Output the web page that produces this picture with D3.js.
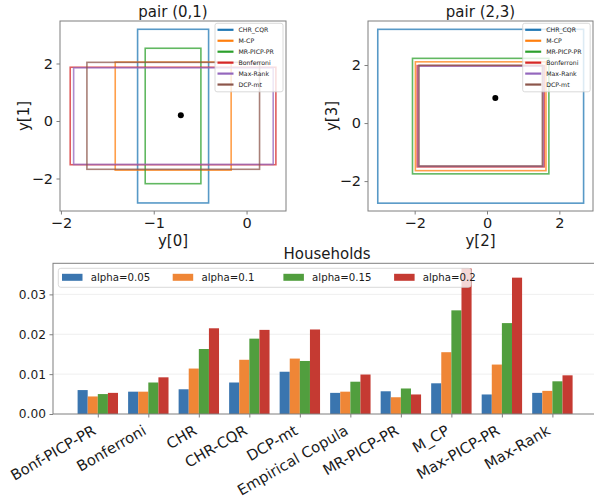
<!DOCTYPE html>
<html><head><meta charset="utf-8">
<script src="https://cdn.jsdelivr.net/npm/d3@7"></script>
<style>body{margin:0;background:#fff}svg{display:block;font-family:"DejaVu Sans",sans-serif}</style>
</head><body><svg id="c" width="594" height="496"></svg>
<script>
// ---- data ----
const methods = ["CHR_CQR","M-CP","MR-PICP-PR","Bonferroni","Max-Rank","DCP-mt"];
const methodColors = ["#1f77b4","#ff7f0e","#2ca02c","#d62728","#9467bd","#8c564b"];
const pair01_x0 = [-1.174,-1.415,-1.092,-1.90,-1.863,-1.72];
const pair01_x1 = [-0.409,-0.166,-0.492,0.316,0.287,0.14];
const pair01_y0 = [-2.85,-1.71,-2.18,-1.52,-1.51,-1.68];
const pair01_y1 = [3.19,2.05,2.53,1.87,1.85,2.04];
const pair01_point = [-0.708,0.198];
const pair23_x0 = [-3.02,-1.98,-2.06,-1.93,-1.90,-1.88];
const pair23_x1 = [2.67,1.63,1.71,1.58,1.55,1.53];
const pair23_y0 = [-2.76,-1.64,-1.75,-1.51,-1.49,-1.48];
const pair23_y1 = [3.23,2.11,2.23,1.98,1.96,1.99];
const pair23_point = [0.23,0.86];
const pair01_xticks = [-2,-1,0];
const pair23_xticks = [-2,0,2];
const pairYticks = [-2,0,2];

const categories = ["Bonf-PICP-PR","Bonferroni","CHR","CHR-CQR","DCP-mt","Empirical Copula","MR-PICP-PR","M_CP","Max-PICP-PR","Max-Rank"];
const alphaLabels = ["alpha=0.05","alpha=0.1","alpha=0.15","alpha=0.2"];
const a005 = [0.0060,0.0056,0.0062,0.0079,0.0106,0.0053,0.0057,0.0077,0.0049,0.0053];
const a010 = [0.0044,0.0056,0.0114,0.0136,0.0139,0.0056,0.0042,0.0155,0.0124,0.0058];
const a015 = [0.0050,0.0079,0.0163,0.0189,0.0133,0.0081,0.0064,0.0260,0.0228,0.0082];
const a020 = [0.0053,0.0092,0.0215,0.0211,0.0212,0.0099,0.0049,0.0365,0.0342,0.0097];
const barTicks = [0,0.01,0.02,0.03];
const barColors = ["#3a75af","#ef8636","#519e3e","#c53a32"];

const svg = d3.select("#c");
const frameCol = "#7f7f7f";

function styleAxis(g, fs){
  g.selectAll(".domain").remove();
  g.selectAll(".tick line").attr("stroke", frameCol);
  g.selectAll(".tick text").attr("fill","#1a1a1a").style("font-size", fs+"px").style("font-family","DejaVu Sans");
}

function pairPlot(o){
  const x = d3.scaleLinear().domain(o.xd).range([o.l,o.r]);
  const y = d3.scaleLinear().domain(o.yd).range([o.b,o.t]);
  const g = svg.append("g");
  // rects
  methods.forEach((m,i)=>{
    g.append("rect")
      .attr("x", x(o.x0[i])).attr("y", y(o.y1[i]))
      .attr("width", x(o.x1[i])-x(o.x0[i])).attr("height", y(o.y0[i])-y(o.y1[i]))
      .attr("fill","none").attr("stroke", methodColors[i]).attr("stroke-width",1.6).attr("stroke-opacity",0.75);
  });
  g.append("circle").attr("cx", x(o.pt[0])).attr("cy", y(o.pt[1])).attr("r",3).attr("fill","#000");
  // frame
  g.append("rect").attr("x",o.l).attr("y",o.t).attr("width",o.r-o.l).attr("height",o.b-o.t)
    .attr("fill","none").attr("stroke",frameCol).attr("stroke-width",1);
  const ax = g.append("g").attr("transform",`translate(0,${o.b})`)
    .call(d3.axisBottom(x).tickValues(o.xt).tickFormat(d3.format("d")).tickSize(3.5).tickPadding(3.5));
  styleAxis(ax,14.5);
  const ay = g.append("g").attr("transform",`translate(${o.l},0)`)
    .call(d3.axisLeft(y).tickValues(pairYticks).tickFormat(d3.format("d")).tickSize(3.5).tickPadding(3.5));
  styleAxis(ay,14.5);
  // labels
  g.append("text").attr("x",(o.l+o.r)/2).attr("y",16.5).attr("text-anchor","middle").style("font-size","15px").attr("fill","#1a1a1a").text(o.title);
  g.append("text").attr("x",(o.l+o.r)/2).attr("y",246).attr("text-anchor","middle").style("font-size","15px").attr("fill","#1a1a1a").text(o.xl);
  g.append("text").attr("transform",`translate(${o.l-31},${(o.t+o.b)/2}) rotate(-90)`).attr("text-anchor","middle").style("font-size","15px").attr("fill","#1a1a1a").text(o.yl);
  // legend
  const lg = g.append("g");
  lg.append("rect").attr("x",o.lgx).attr("y",23.3).attr("width",o.lgw).attr("height",68.5).attr("rx",2)
    .attr("fill","#fff").attr("fill-opacity",0.8).attr("stroke","#d0d0d0").attr("stroke-width",0.8);
  methods.forEach((m,i)=>{
    const yy = 29.8 + i*10.95;
    lg.append("line").attr("x1",o.lgx+2.5).attr("x2",o.lgx+18.5).attr("y1",yy).attr("y2",yy)
      .attr("stroke",methodColors[i]).attr("stroke-width",2.2);
    lg.append("text").attr("x",o.lgx+23.5).attr("y",yy+2.3).style("font-size","6.2px").attr("fill","#1a1a1a").text(m);
  });
}

pairPlot({l:60,r:286,t:21,b:211,xd:[-2.01,0.425],yd:[-3.13,3.478],
  x0:pair01_x0,x1:pair01_x1,y0:pair01_y0,y1:pair01_y1,pt:pair01_point,xt:pair01_xticks,
  title:"pair (0,1)",xl:"y[0]",yl:"y[1]",lgx:215,lgw:68});
pairPlot({l:368,r:593,t:21,b:211,xd:[-3.29,2.93],yd:[-3.03,3.517],
  x0:pair23_x0,x1:pair23_x1,y0:pair23_y0,y1:pair23_y1,pt:pair23_point,xt:pair23_xticks,
  title:"pair (2,3)",xl:"y[2]",yl:"y[3]",lgx:522.7,lgw:67.5});

// ---- bar chart ----
const series = [a005,a010,a015,a020];
const bl=53, br=597.2, bt=263.3, bb=414;
const xb = d3.scaleLinear().domain([-0.887, categories.length-1+0.887]).range([bl,br]);
const yb = d3.scaleLinear().domain([0,0.0378]).range([bb,bt]);
const bg = svg.append("g");
// grid
bg.selectAll("line.grid").data(barTicks.slice(1)).join("line").attr("class","grid")
  .attr("x1",bl).attr("x2",br).attr("y1",d=>yb(d)).attr("y2",d=>yb(d)).attr("stroke","#ebebeb").attr("stroke-width",0.8);
series.forEach((s,j)=>{
  bg.selectAll(null).data(s).join("rect")
    .attr("x",(d,i)=>xb(i+(j-2)*0.2)).attr("width",xb(0.2)-xb(0))
    .attr("y",d=>yb(d)).attr("height",d=>yb(0)-yb(d))
    .attr("fill",barColors[j]);
});
bg.append("rect").attr("x",bl).attr("y",bt).attr("width",br-bl).attr("height",bb-bt)
  .attr("fill","none").attr("stroke",frameCol).attr("stroke-width",1);
const bay = bg.append("g").attr("transform",`translate(${bl},0)`)
  .call(d3.axisLeft(yb).tickValues(barTicks).tickFormat(d3.format(".2f")).tickSize(3.5).tickPadding(3.5));
styleAxis(bay,12.2);
const bax = bg.append("g").attr("transform",`translate(0,${bb})`)
  .call(d3.axisBottom(xb).tickValues(d3.range(categories.length)).tickFormat(i=>categories[i]).tickSize(3.5).tickPadding(0));
styleAxis(bax,14.8);
bax.selectAll(".tick text").attr("y",0).attr("dy",null).attr("text-anchor","end")
  .attr("transform","translate(-1.5,19.5) rotate(-30)");
bg.append("text").attr("x",(bl+br)/2+2).attr("y",259).attr("text-anchor","middle").style("font-size","15px").attr("fill","#1a1a1a").text("Households");
// legend
const blg = bg.append("g");
blg.append("rect").attr("x",58.3).attr("y",268.3).attr("width",412.7).attr("height",19).attr("rx",2.5)
  .attr("fill","#fff").attr("fill-opacity",0.8).attr("stroke","#d0d0d0").attr("stroke-width",0.8);
alphaLabels.forEach((lab,j)=>{
  const x0 = 62 + j*110.7;
  blg.append("rect").attr("x",x0).attr("y",273.8).attr("width",20.5).attr("height",7).attr("fill",barColors[j]);
  blg.append("text").attr("x",x0+28.7).attr("y",281).style("font-size","10.2px").attr("fill","#1a1a1a").text(lab);
});
</script></body></html>
